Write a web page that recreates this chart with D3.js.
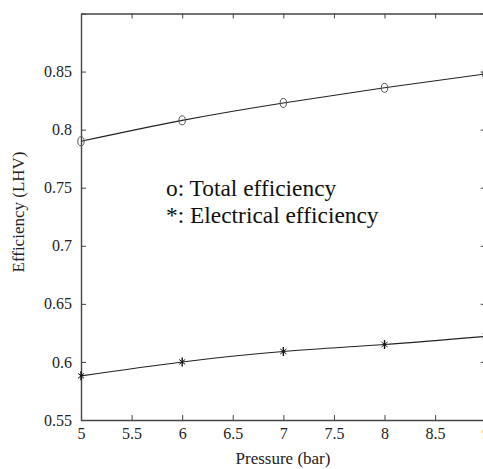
<!DOCTYPE html>
<html>
<head>
<meta charset="utf-8">
<script src="https://cdn.jsdelivr.net/npm/d3@7"></script>
<style>
  body { margin: 0; background: #fff; }
  svg { display: block; }
</style>
</head>
<body>
<svg id="chart" width="483" height="469"></svg>
<script>
// 데이터
var pressure = [5, 6, 7, 8, 9];
var totalEff = [0.790, 0.808, 0.823, 0.836, 0.848];
var elecEff = [0.588, 0.600, 0.609, 0.615, 0.622];
var xTicks = [5, 5.5, 6, 6.5, 7, 7.5, 8, 8.5, 9];
var yTicks = [0.55, 0.6, 0.65, 0.7, 0.75, 0.8, 0.85, 0.9];
var legendLines = ["o: Total efficiency", "*: Electrical efficiency"];

var svg = d3.select("#chart");
var font = "'Liberation Serif'";
var axisColor = "#444";

// 그리드 영역
var box = { left: 81, right: 485.7, top: 13.5, bottom: 420 };

var x = d3.scaleLinear().domain([5, 9]).range([box.left, box.right]);
var y = d3.scaleLinear().domain([0.55, 0.9]).range([box.bottom, box.top]);

// 축 (안쪽 눈금)
var fmtY = function(d) { return d >= 0.9 ? "" : String(+d.toFixed(2)); };
var fmtX = function(d) { return String(d); };

svg.append("g").attr("transform", "translate(0," + box.bottom + ")")
  .call(d3.axisBottom(x).tickValues(xTicks).tickSizeInner(-5).tickSizeOuter(0).tickPadding(8).tickFormat(fmtX));
svg.append("g").attr("transform", "translate(0," + box.top + ")")
  .call(d3.axisTop(x).tickValues(xTicks).tickSizeInner(-5).tickSizeOuter(0).tickFormat(""));
svg.append("g").attr("transform", "translate(" + box.left + ",0)")
  .call(d3.axisLeft(y).tickValues(yTicks).tickSizeInner(-5).tickSizeOuter(0).tickPadding(9).tickFormat(fmtY));
svg.append("g").attr("transform", "translate(" + box.right + ",0)")
  .call(d3.axisRight(y).tickValues(yTicks).tickSizeInner(-5).tickSizeOuter(0).tickFormat(""));

svg.selectAll(".domain").attr("stroke", axisColor).attr("stroke-width", 1.4);
svg.selectAll(".tick line").attr("stroke", axisColor).attr("stroke-width", 1);
svg.selectAll(".tick text").style("font-family", font).style("font-size", "16px").attr("fill", "#222");

// 곡선
var line = d3.line()
  .x(function(d, i) { return x(pressure[i]); })
  .y(function(d) { return y(d); })
  .curve(d3.curveNatural);

[totalEff, elecEff].forEach(function(series) {
  svg.append("path").datum(series)
    .attr("d", line)
    .attr("fill", "none")
    .attr("stroke", "#222")
    .attr("stroke-width", 1.1);
});

// 표식: o
svg.selectAll(".mo").data(totalEff).enter().append("ellipse")
  .attr("cx", function(d, i) { return x(pressure[i]); })
  .attr("cy", function(d) { return y(d); })
  .attr("rx", 3.2).attr("ry", 4.5)
  .attr("fill", "none").attr("stroke", "#555").attr("stroke-width", 1);

// 표식: *
var star = svg.selectAll(".ms").data(elecEff).enter().append("g")
  .attr("transform", function(d, i) { return "translate(" + x(pressure[i]) + "," + y(d) + ")"; });
star.append("line").attr("x1", 0).attr("y1", -4.5).attr("x2", 0).attr("y2", 4.5)
  .attr("stroke", "#111").attr("stroke-width", 1.4);
star.append("line").attr("x1", -3).attr("y1", -2.5).attr("x2", 3).attr("y2", 2.5)
  .attr("stroke", "#111").attr("stroke-width", 1);
star.append("line").attr("x1", -3).attr("y1", 2.5).attr("x2", 3).attr("y2", -2.5)
  .attr("stroke", "#111").attr("stroke-width", 1);

// 범례 텍스트
svg.selectAll(".legend").data(legendLines).enter().append("text")
  .attr("x", 166).attr("y", function(d, i) { return 196 + i * 27; })
  .style("font-family", font).style("font-size", "23.4px").attr("fill", "#111")
  .text(function(d) { return d; });

// 축 제목
svg.append("text")
  .attr("x", 283).attr("y", 464)
  .attr("text-anchor", "middle")
  .style("font-family", font).style("font-size", "17px").attr("fill", "#222")
  .text("Pressure (bar)");

svg.append("text")
  .attr("transform", "translate(24,212) rotate(-90)")
  .attr("text-anchor", "middle")
  .style("font-family", font).style("font-size", "17px").attr("fill", "#222")
  .text("Efficiency (LHV)");
</script>
</body>
</html>
